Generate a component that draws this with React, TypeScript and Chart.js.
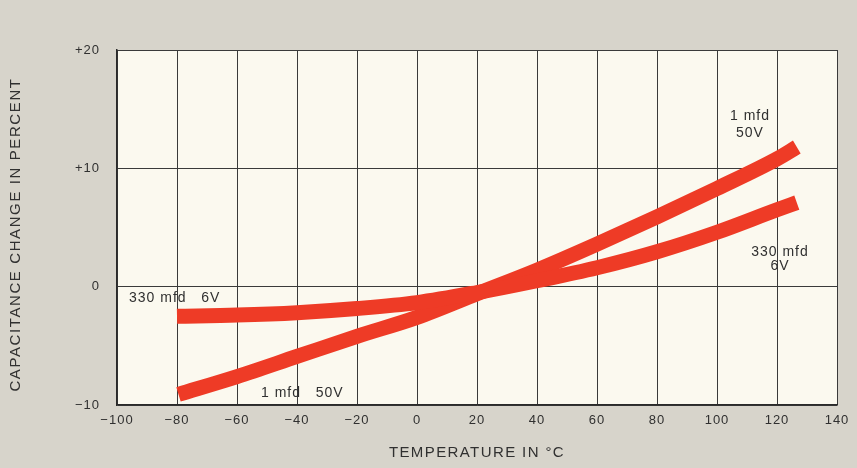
import React, { useEffect, useRef } from "react";
import { Chart, registerables } from "chart.js";
Chart.register(...registerables);

// Data
const temps1mfd = [-79.5, -60, -40, -20, 0, 20, 40, 60, 80, 100, 120, 126.6];
const cap1mfd = [-9.1, -7.6, -5.9, -4.2, -2.6, -0.6, 1.4, 3.6, 5.9, 8.3, 10.8, 11.8];
const temps330mfd = [-80, -60, -40, -20, 0, 20, 40, 60, 80, 100, 120, 126.6];
const cap330mfd = [-2.5, -2.4, -2.2, -1.85, -1.35, -0.5, 0.5, 1.6, 2.95, 4.6, 6.5, 7.1];

const xTicks = [-100, -80, -60, -40, -20, 0, 20, 40, 60, 80, 100, 120, 140];
const yTicks = [-10, 0, 10, 20];

const xTitle = "TEMPERATURE IN °C";
const yTitle = "CAPACITANCE CHANGE IN PERCENT";

// Annotation labels (data coordinates)
const labelTexts = ["330 mfd   6V", "1 mfd   50V", "1 mfd", "50V", "330 mfd", "6V"];
const labelX = [-96, -52, 111, 111, 121, 121];
const labelY = [-1.0, -9.0, 14.4, 13.0, 2.95, 1.7];
const labelAlign: CanvasTextAlign[] = ["left", "left", "center", "center", "center", "center"];

const FONT = "'Liberation Sans', Arial, sans-serif";
const RED = "#ee3b26";
const TEXT = "#303030";

const bgPlugin = {
  id: "bgPlugin",
  beforeDraw(chart: any) {
    const { ctx, chartArea } = chart;
    ctx.save();
    ctx.fillStyle = "#d7d4cb";
    ctx.fillRect(0, 0, chart.width, chart.height);
    ctx.fillStyle = "#fbf9ef";
    ctx.fillRect(chartArea.left, chartArea.top, chartArea.right - chartArea.left, chartArea.bottom - chartArea.top);
    ctx.restore();
    (ctx as any).letterSpacing = "1px";
  },
  afterDraw(chart: any) {
    const { ctx, chartArea, scales } = chart;
    ctx.save();
    (ctx as any).letterSpacing = "1.4px";
    ctx.fillStyle = TEXT;
    ctx.font = `15px ${FONT}`;
    ctx.textAlign = "center";
    ctx.textBaseline = "middle";
    ctx.fillText(xTitle, (chartArea.left + chartArea.right) / 2, 453);
    ctx.translate(16, (chartArea.top + chartArea.bottom) / 2 + 7);
    ctx.rotate(-Math.PI / 2);
    (ctx as any).letterSpacing = "1.6px";
    ctx.fillText(yTitle, 0, 0);
    ctx.restore();

    ctx.save();
    (ctx as any).letterSpacing = "1px";
    ctx.fillStyle = TEXT;
    ctx.font = `14px ${FONT}`;
    ctx.textBaseline = "middle";
    for (let i = 0; i < labelTexts.length; i++) {
      ctx.textAlign = labelAlign[i];
      ctx.fillText(labelTexts[i], scales.x.getPixelForValue(labelX[i]), scales.y.getPixelForValue(labelY[i]));
    }
    ctx.restore();
  },
};

export default function App() {
  const ref = useRef<HTMLCanvasElement>(null);
  useEffect(() => {
    if (!ref.current) return;
    const chart = new Chart(ref.current, {
      type: "line",
      data: {
        datasets: [
          {
            label: "330 mfd 6V",
            data: temps330mfd.map((t, i) => ({ x: t, y: cap330mfd[i] })),
            borderColor: RED,
            backgroundColor: RED,
            borderWidth: 15,
            pointRadius: 0,
            cubicInterpolationMode: "monotone",
            borderCapStyle: "butt",
            clip: 0,
          },
          {
            label: "1 mfd 50V",
            data: temps1mfd.map((t, i) => ({ x: t, y: cap1mfd[i] })),
            borderColor: RED,
            backgroundColor: RED,
            borderWidth: 15,
            pointRadius: 0,
            cubicInterpolationMode: "monotone",
            borderCapStyle: "butt",
            clip: 0,
          },
        ],
      },
      options: {
        responsive: false,
        animation: false,
        events: [],
        layout: { padding: { left: 0, right: 20, top: 50, bottom: 0 } },
        plugins: { legend: { display: false }, tooltip: { enabled: false }, title: { display: false } },
        scales: {
          x: {
            type: "linear",
            min: -100,
            max: 140,
            afterBuildTicks: (s: any) => { s.ticks = xTicks.map((v) => ({ value: v })); },
            afterFit: (s: any) => { s.height = 63; },
            ticks: {
              color: TEXT,
              font: { family: FONT, size: 13 },
              padding: 8,
              maxRotation: 0,
              autoSkip: false,
              callback: (v: any) => (v < 0 ? "\u2212" + Math.abs(v) : String(v)),
            },
            grid: { color: "#3a3a3a", lineWidth: 1, tickLength: 0, drawTicks: false },
            border: { display: true, color: "#2a2a2a", width: 1.5 },
          },
          y: {
            type: "linear",
            min: -10,
            max: 20,
            afterBuildTicks: (s: any) => { s.ticks = yTicks.map((v) => ({ value: v })); },
            afterFit: (s: any) => { s.width = 117; },
            ticks: {
              color: TEXT,
              font: { family: FONT, size: 13 },
              padding: 17,
              autoSkip: false,
              callback: (v: any) => (v > 0 ? "+" + v : v < 0 ? "\u2212" + Math.abs(v) : "0"),
            },
            grid: { color: "#3a3a3a", lineWidth: 1, tickLength: 0, drawTicks: false },
            border: { display: true, color: "#2a2a2a", width: 1.5 },
          },
        },
      },
      plugins: [bgPlugin],
    } as any);
    return () => chart.destroy();
  }, []);
  return (
    <div style={{ position: "absolute", left: 0, top: 0, width: 857, height: 468 }}>
      <canvas ref={ref} width={857} height={468} style={{ width: 857, height: 468, display: "block" }} />
    </div>
  );
}
